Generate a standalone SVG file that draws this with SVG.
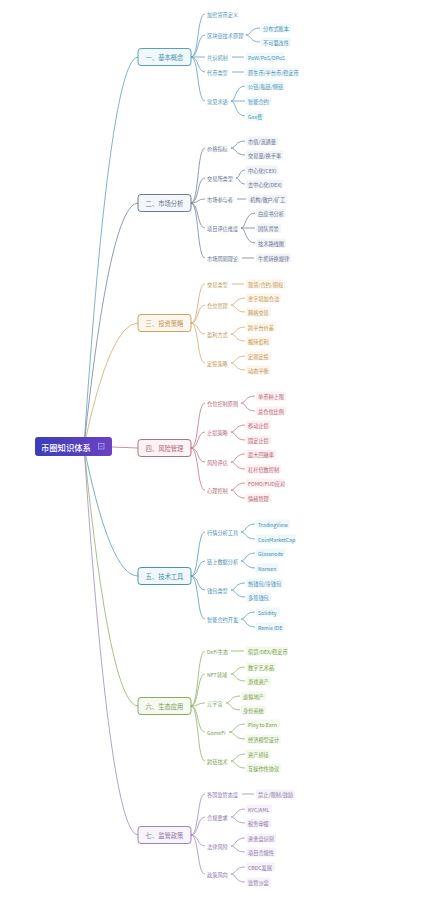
<svg xmlns="http://www.w3.org/2000/svg" width="424" height="902" viewBox="0 0 424 902">
<defs>
<linearGradient id="rootg" x1="0" y1="0" x2="1" y2="0"><stop offset="0" stop-color="#3b3db8"/><stop offset="1" stop-color="#6b42c4"/></linearGradient>
</defs>
<style>
text{font-family:"Noto Sans CJK SC","Noto Sans",sans-serif;dominant-baseline:central;}
.t{font-size:5.2px;}
.m{font-size:6.3px;text-anchor:middle;}
.cn path{fill:none;stroke-width:0.8;}
.root{fill:#fff;font-size:8.3px;font-weight:500;}
.k1{stroke:#5aa2bd}.f1{fill:#4a93b0}.bg1{fill:#eff8fb}.mb1{fill:#f0f8fb;stroke:#5aa0bb}
.k2{stroke:#74839f}.f2{fill:#64738f}.bg2{fill:#f2f4f8}.mb2{fill:#f4f6f9;stroke:#6b7b99}
.k3{stroke:#cfab70}.f3{fill:#bf9858}.bg3{fill:#fcf6ea}.mb3{fill:#fcf7ee;stroke:#c9a468}
.k4{stroke:#c27584}.f4{fill:#b36575}.bg4{fill:#fcf0f2}.mb4{fill:#fcf3f5;stroke:#bb6c7c}
.k5{stroke:#549db9}.f5{fill:#458ead}.bg5{fill:#eef7fa}.mb5{fill:#f0f8fb;stroke:#4a95b3}
.k6{stroke:#93b06a}.f6{fill:#7b9c52}.bg6{fill:#f3f9eb}.mb6{fill:#f5f9ef;stroke:#8cab62}
.k7{stroke:#a28cb9}.f7{fill:#8e75a6}.bg7{fill:#f6f2f9}.mb7{fill:#f7f4fa;stroke:#9c85b4}
</style>
<rect width="424" height="902" fill="#ffffff"/>
<g id="connectors" class="cn">
<path class="k1" stroke-width="1" d="M84 446 Q110 57 138 57"/>
<path class="k2" stroke-width="1" d="M84 446 Q110 203 138 203"/>
<path class="k3" stroke-width="1" d="M84 446 Q110 323 138 323"/>
<path class="k4" stroke-width="1" d="M112 447 L138 448"/>
<path class="k5" stroke-width="1" d="M84 447 Q110 576 138 576"/>
<path class="k6" stroke-width="1" d="M84 447 Q110 706 138 706"/>
<path class="k7" stroke-width="1" d="M84 447 Q110 835 138 835"/>
<path class="k1" d="M191 57 C199 57 197 14 205 14M191 57 C199 57 197 35 205 35M191 57 H205M191 57 C199 57 197 72 205 72M191 57 C199 57 197 101 205 101"/>
<path class="k1" d="M246 35 C251 35 250 28 260 28M246 35 C251 35 250 42 260 42M232 57 H244M232 72 H244M231 101 C236 101 235 86 245 86M231 101 H245M231 101 C236 101 235 116 245 116"/>
<path class="k2" d="M191 203 C199 203 197 148 205 148M191 203 C199 203 197 178 205 178M191 203 C199 203 197 199 205 199M191 203 C199 203 197 228 205 228M191 203 C199 203 197 258 205 258"/>
<path class="k2" d="M231 148 C236 148 235 141 245 141M231 148 C236 148 235 155 245 155M236 178 C240 178 239 170 245 170M236 178 C240 178 239 184 245 184M237 199 H246M241 228 C246 228 245 213 255 213M241 228 H255M241 228 C246 228 245 243 255 243M242 258 H254"/>
<path class="k3" d="M191 323 C199 323 197 284 205 284M191 323 C199 323 197 305 205 305M191 323 C199 323 197 334 205 334M191 323 C199 323 197 363 205 363"/>
<path class="k3" d="M232 284 H244M231 305 C236 305 235 298 245 298M231 305 C236 305 235 312 245 312M231 334 C236 334 235 327 245 327M231 334 C236 334 235 341 245 341M231 363 C236 363 235 356 245 356M231 363 C236 363 235 370 245 370"/>
<path class="k4" d="M191 448 C199 448 197 403 205 403M191 448 C199 448 197 432 205 432M191 448 C199 448 197 462 205 462M191 448 C199 448 197 490 205 490"/>
<path class="k4" d="M241 403 C246 403 245 396 255 396M241 403 C246 403 245 411 255 411M231 432 C236 432 235 425 245 425M231 432 C236 432 235 440 245 440M231 462 C236 462 235 454 245 454M231 462 C236 462 235 469 245 469M231 490 C236 490 235 483 245 483M231 490 C236 490 235 498 245 498"/>
<path class="k5" d="M191 576 C199 576 197 532 205 532M191 576 C199 576 197 561 205 561M191 576 C199 576 197 590 205 590M191 576 C199 576 197 619 205 619"/>
<path class="k5" d="M241 532 C246 532 245 524 255 524M241 532 C246 532 245 539 255 539M241 561 C246 561 245 553 255 553M241 561 C246 561 245 568 255 568M231 590 C236 590 235 583 245 583M231 590 C236 590 235 597 245 597M241 619 C246 619 245 612 255 612M241 619 C246 619 245 627 255 627"/>
<path class="k6" d="M191 706 C199 706 197 651 205 651M191 706 C199 706 197 674 205 674M191 706 C199 706 197 703 205 703M191 706 C199 706 197 732 205 732M191 706 C199 706 197 761 205 761"/>
<path class="k6" d="M231 651 H244M231 674 C236 674 235 667 245 667M231 674 C236 674 235 681 245 681M226 703 C231 703 230 696 240 696M226 703 C231 703 230 710 240 710M229 732 C235 732 234 724 245 724M229 732 C235 732 234 739 245 739M231 761 C236 761 235 754 245 754M231 761 C236 761 235 768 245 768"/>
<path class="k7" d="M191 835 C199 835 197 794 205 794M191 835 C199 835 197 817 205 817M191 835 C199 835 197 846 205 846M191 835 C199 835 197 874 205 874"/>
<path class="k7" d="M242 794 H254M231 817 C236 817 235 809 245 809M231 817 C236 817 235 823 245 823M231 846 C236 846 235 838 245 838M231 846 C236 846 235 852 245 852M231 874 C236 874 235 867 245 867M231 874 C236 874 235 882 245 882"/>
</g>

<g id="root">
<rect x="35" y="437" width="77" height="19" rx="3" fill="url(#rootg)"/>
<text class="root" x="41" y="446.5">币圈知识体系</text>
<rect x="98.5" y="443.5" width="5.5" height="5.5" fill="none" stroke="#ffffff" stroke-opacity="0.7" stroke-width="0.6"/>
<path d="M99.8 446.25 H102.7" stroke="#ffffff" stroke-opacity="0.7" stroke-width="0.6"/>
</g>

<g id="m1"><rect class="mb1" x="138" y="48.5" width="53" height="17" rx="3" stroke-width="1"/><text class="m f1" x="164.5" y="57">一、基本概念</text></g>
<g id="m2"><rect class="mb2" x="138" y="194.5" width="53" height="17" rx="3" stroke-width="1"/><text class="m f2" x="164.5" y="203">二、市场分析</text></g>
<g id="m3"><rect class="mb3" x="138" y="314.5" width="53" height="17" rx="3" stroke-width="1"/><text class="m f3" x="164.5" y="323">三、投资策略</text></g>
<g id="m4"><rect class="mb4" x="138" y="439.5" width="53" height="17" rx="3" stroke-width="1"/><text class="m f4" x="164.5" y="448">四、风险管理</text></g>
<g id="m5"><rect class="mb5" x="138" y="567.5" width="53" height="17" rx="3" stroke-width="1"/><text class="m f5" x="164.5" y="576">五、技术工具</text></g>
<g id="m6"><rect class="mb6" x="138" y="697.5" width="53" height="17" rx="3" stroke-width="1"/><text class="m f6" x="164.5" y="706">六、生态应用</text></g>
<g id="m7"><rect class="mb7" x="138" y="826.5" width="53" height="17" rx="3" stroke-width="1"/><text class="m f7" x="164.5" y="835">七、监管政策</text></g>

<g id="n1a"><text class="t f1" x="207" y="14">加密货币定义</text></g>
<g id="n1b"><text class="t f1" x="207" y="35">区块链技术原理</text></g>
<g id="n1b1"><rect class="bg1" x="261" y="23.5" width="30" height="9" rx="1.5"/><text class="t f1" x="263" y="28">分布式账本</text></g>
<g id="n1b2"><rect class="bg1" x="261" y="37.5" width="30" height="9" rx="1.5"/><text class="t f1" x="263" y="42">不可篡改性</text></g>
<g id="n1c"><text class="t f1" x="207" y="57">共识机制</text></g>
<g id="n1c1"><rect class="bg1" x="246" y="52.5" width="38" height="9" rx="1.5"/><text class="t f1" x="248" y="57">PoW/PoS/DPoS</text></g>
<g id="n1d"><text class="t f1" x="207" y="72">代币类型</text></g>
<g id="n1d1"><rect class="bg1" x="246" y="67.5" width="53" height="9" rx="1.5"/><text class="t f1" x="248" y="72">原生币/平台币/稳定币</text></g>
<g id="n1e"><text class="t f1" x="207" y="101">常见术语</text></g>
<g id="n1e1"><rect class="bg1" x="246" y="81.5" width="39" height="9" rx="1.5"/><text class="t f1" x="248" y="86">公链/私链/侧链</text></g>
<g id="n1e2"><rect class="bg1" x="246" y="96.5" width="25" height="9" rx="1.5"/><text class="t f1" x="248" y="101">智能合约</text></g>
<g id="n1e3"><rect class="bg1" x="246" y="111.5" width="18" height="9" rx="1.5"/><text class="t f1" x="248" y="116">Gas费</text></g>

<g id="n2a"><text class="t f2" x="207" y="148">价格指标</text></g>
<g id="n2a1"><rect class="bg2" x="246" y="136.5" width="32" height="9" rx="1.5"/><text class="t f2" x="248" y="141">市值/流通量</text></g>
<g id="n2a2"><rect class="bg2" x="246" y="150.5" width="37" height="9" rx="1.5"/><text class="t f2" x="248" y="155">交易量/换手率</text></g>
<g id="n2b"><text class="t f2" x="207" y="178">交易所类型</text></g>
<g id="n2b1"><rect class="bg2" x="246" y="165.5" width="32" height="9" rx="1.5"/><text class="t f2" x="248" y="170">中心化(CEX)</text></g>
<g id="n2b2"><rect class="bg2" x="246" y="179.5" width="37" height="9" rx="1.5"/><text class="t f2" x="248" y="184">去中心化(DEX)</text></g>
<g id="n2c"><text class="t f2" x="207" y="199">市场参与者</text></g>
<g id="n2c1"><rect class="bg2" x="248" y="194.5" width="39" height="9" rx="1.5"/><text class="t f2" x="250" y="199">机构/散户/矿工</text></g>
<g id="n2d"><text class="t f2" x="207" y="228">项目评估维度</text></g>
<g id="n2d1"><rect class="bg2" x="256" y="208.5" width="30" height="9" rx="1.5"/><text class="t f2" x="258" y="213">白皮书分析</text></g>
<g id="n2d2"><rect class="bg2" x="256" y="223.5" width="25" height="9" rx="1.5"/><text class="t f2" x="258" y="228">团队背景</text></g>
<g id="n2d3"><rect class="bg2" x="256" y="238.5" width="30" height="9" rx="1.5"/><text class="t f2" x="258" y="243">技术路线图</text></g>
<g id="n2e"><text class="t f2" x="207" y="258">市场周期理论</text></g>
<g id="n2e1"><rect class="bg2" x="256" y="253.5" width="35" height="9" rx="1.5"/><text class="t f2" x="258" y="258">牛熊转换规律</text></g>

<g id="n3a"><text class="t f3" x="207" y="284">交易类型</text></g>
<g id="n3a1"><rect class="bg3" x="246" y="279.5" width="39" height="9" rx="1.5"/><text class="t f3" x="248" y="284">现货/合约/期权</text></g>
<g id="n3b"><text class="t f3" x="207" y="305">仓位管理</text></g>
<g id="n3b1"><rect class="bg3" x="246" y="293.5" width="35" height="9" rx="1.5"/><text class="t f3" x="248" y="298">金字塔加仓法</text></g>
<g id="n3b2"><rect class="bg3" x="246" y="307.5" width="25" height="9" rx="1.5"/><text class="t f3" x="248" y="312">网格交易</text></g>
<g id="n3c"><text class="t f3" x="207" y="334">盈利方式</text></g>
<g id="n3c1"><rect class="bg3" x="246" y="322.5" width="30" height="9" rx="1.5"/><text class="t f3" x="248" y="327">跨平台价差</text></g>
<g id="n3c2"><rect class="bg3" x="246" y="336.5" width="25" height="9" rx="1.5"/><text class="t f3" x="248" y="341">搬砖套利</text></g>
<g id="n3d"><text class="t f3" x="207" y="363">定投策略</text></g>
<g id="n3d1"><rect class="bg3" x="246" y="351.5" width="25" height="9" rx="1.5"/><text class="t f3" x="248" y="356">定期定投</text></g>
<g id="n3d2"><rect class="bg3" x="246" y="365.5" width="25" height="9" rx="1.5"/><text class="t f3" x="248" y="370">动态平衡</text></g>

<g id="n4a"><text class="t f4" x="207" y="403">仓位控制原则</text></g>
<g id="n4a1"><rect class="bg4" x="256" y="391.5" width="30" height="9" rx="1.5"/><text class="t f4" x="258" y="396">单币种上限</text></g>
<g id="n4a2"><rect class="bg4" x="256" y="406.5" width="30" height="9" rx="1.5"/><text class="t f4" x="258" y="411">总仓位比例</text></g>
<g id="n4b"><text class="t f4" x="207" y="432">止损策略</text></g>
<g id="n4b1"><rect class="bg4" x="246" y="420.5" width="25" height="9" rx="1.5"/><text class="t f4" x="248" y="425">移动止损</text></g>
<g id="n4b2"><rect class="bg4" x="246" y="435.5" width="25" height="9" rx="1.5"/><text class="t f4" x="248" y="440">固定止损</text></g>
<g id="n4c"><text class="t f4" x="207" y="462">风险评估</text></g>
<g id="n4c1"><rect class="bg4" x="246" y="449.5" width="30" height="9" rx="1.5"/><text class="t f4" x="248" y="454">最大回撤率</text></g>
<g id="n4c2"><rect class="bg4" x="246" y="464.5" width="35" height="9" rx="1.5"/><text class="t f4" x="248" y="469">杠杆倍数控制</text></g>
<g id="n4d"><text class="t f4" x="207" y="490">心理控制</text></g>
<g id="n4d1"><rect class="bg4" x="246" y="478.5" width="38" height="9" rx="1.5"/><text class="t f4" x="248" y="483">FOMO/FUD应对</text></g>
<g id="n4d2"><rect class="bg4" x="246" y="493.5" width="25" height="9" rx="1.5"/><text class="t f4" x="248" y="498">情绪管理</text></g>

<g id="n5a"><text class="t f5" x="207" y="532">行情分析工具</text></g>
<g id="n5a1"><rect class="bg5" x="256" y="519.5" width="34" height="9" rx="1.5"/><text class="t f5" x="258" y="524">TradingView</text></g>
<g id="n5a2"><rect class="bg5" x="256" y="534.5" width="40" height="9" rx="1.5"/><text class="t f5" x="258" y="539">CoinMarketCap</text></g>
<g id="n5b"><text class="t f5" x="207" y="561">链上数据分析</text></g>
<g id="n5b1"><rect class="bg5" x="256" y="548.5" width="29" height="9" rx="1.5"/><text class="t f5" x="258" y="553">Glassnode</text></g>
<g id="n5b2"><rect class="bg5" x="256" y="563.5" width="22" height="9" rx="1.5"/><text class="t f5" x="258" y="568">Nansen</text></g>
<g id="n5c"><text class="t f5" x="207" y="590">钱包类型</text></g>
<g id="n5c1"><rect class="bg5" x="246" y="578.5" width="37" height="9" rx="1.5"/><text class="t f5" x="248" y="583">热钱包/冷钱包</text></g>
<g id="n5c2"><rect class="bg5" x="246" y="592.5" width="25" height="9" rx="1.5"/><text class="t f5" x="248" y="597">多签钱包</text></g>
<g id="n5d"><text class="t f5" x="207" y="619">智能合约开发</text></g>
<g id="n5d1"><rect class="bg5" x="256" y="607.5" width="24" height="9" rx="1.5"/><text class="t f5" x="258" y="612">Solidity</text></g>
<g id="n5d2"><rect class="bg5" x="256" y="622.5" width="28" height="9" rx="1.5"/><text class="t f5" x="258" y="627">Remix IDE</text></g>

<g id="n6a"><text class="t f6" x="207" y="651">DeFi生态</text></g>
<g id="n6a1"><rect class="bg6" x="246" y="646.5" width="42" height="9" rx="1.5"/><text class="t f6" x="248" y="651">借贷/DEX/稳定币</text></g>
<g id="n6b"><text class="t f6" x="207" y="674">NFT领域</text></g>
<g id="n6b1"><rect class="bg6" x="246" y="662.5" width="30" height="9" rx="1.5"/><text class="t f6" x="248" y="667">数字艺术品</text></g>
<g id="n6b2"><rect class="bg6" x="246" y="676.5" width="25" height="9" rx="1.5"/><text class="t f6" x="248" y="681">游戏资产</text></g>
<g id="n6c"><text class="t f6" x="207" y="703">元宇宙</text></g>
<g id="n6c1"><rect class="bg6" x="241" y="691.5" width="25" height="9" rx="1.5"/><text class="t f6" x="243" y="696">虚拟地产</text></g>
<g id="n6c2"><rect class="bg6" x="241" y="705.5" width="25" height="9" rx="1.5"/><text class="t f6" x="243" y="710">身份系统</text></g>
<g id="n6d"><text class="t f6" x="207" y="732">GameFi</text></g>
<g id="n6d1"><rect class="bg6" x="246" y="719.5" width="34" height="9" rx="1.5"/><text class="t f6" x="248" y="724">Play to Earn</text></g>
<g id="n6d2"><rect class="bg6" x="246" y="734.5" width="35" height="9" rx="1.5"/><text class="t f6" x="248" y="739">经济模型设计</text></g>
<g id="n6e"><text class="t f6" x="207" y="761">跨链技术</text></g>
<g id="n6e1"><rect class="bg6" x="246" y="749.5" width="25" height="9" rx="1.5"/><text class="t f6" x="248" y="754">资产桥接</text></g>
<g id="n6e2"><rect class="bg6" x="246" y="763.5" width="35" height="9" rx="1.5"/><text class="t f6" x="248" y="768">互操作性协议</text></g>

<g id="n7a"><text class="t f7" x="207" y="794">各国监管态度</text></g>
<g id="n7a1"><rect class="bg7" x="256" y="789.5" width="39" height="9" rx="1.5"/><text class="t f7" x="258" y="794">禁止/限制/鼓励</text></g>
<g id="n7b"><text class="t f7" x="207" y="817">合规要求</text></g>
<g id="n7b1"><rect class="bg7" x="246" y="804.5" width="26" height="9" rx="1.5"/><text class="t f7" x="248" y="809">KYC/AML</text></g>
<g id="n7b2"><rect class="bg7" x="246" y="818.5" width="25" height="9" rx="1.5"/><text class="t f7" x="248" y="823">税务申报</text></g>
<g id="n7c"><text class="t f7" x="207" y="846">法律风险</text></g>
<g id="n7c1"><rect class="bg7" x="246" y="833.5" width="30" height="9" rx="1.5"/><text class="t f7" x="248" y="838">资金盘识别</text></g>
<g id="n7c2"><rect class="bg7" x="246" y="847.5" width="30" height="9" rx="1.5"/><text class="t f7" x="248" y="852">项目合规性</text></g>
<g id="n7d"><text class="t f7" x="207" y="874">政策风向</text></g>
<g id="n7d1"><rect class="bg7" x="246" y="862.5" width="29" height="9" rx="1.5"/><text class="t f7" x="248" y="867">CBDC发展</text></g>
<g id="n7d2"><rect class="bg7" x="246" y="877.5" width="25" height="9" rx="1.5"/><text class="t f7" x="248" y="882">监管沙盒</text></g>
</svg>
